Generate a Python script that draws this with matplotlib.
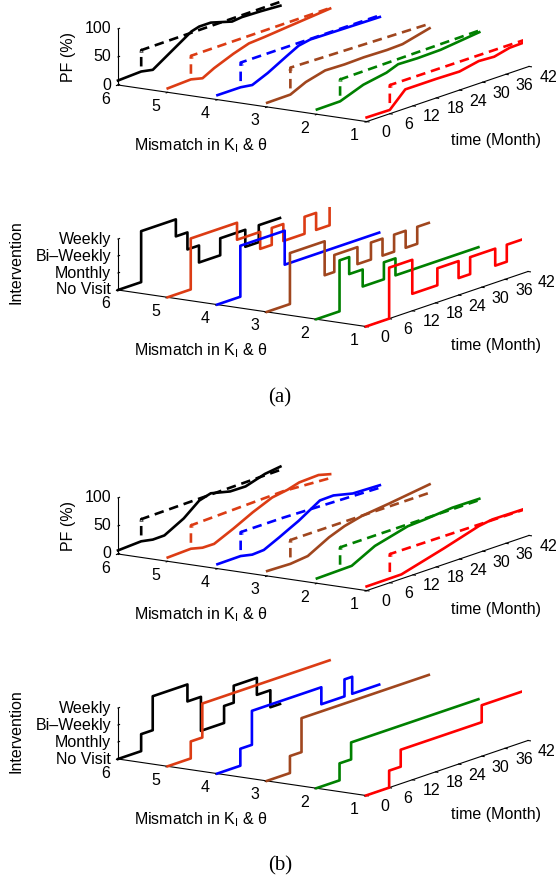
import numpy as np
import matplotlib.pyplot as plt

plt.rcParams['font.family'] = ['Liberation Sans', 'DejaVu Sans']
plt.rcParams['mathtext.fontset'] = 'custom'
plt.rcParams['mathtext.rm'] = 'Liberation Sans'
plt.rcParams['mathtext.it'] = 'Liberation Sans:italic'

# ── DATA ──────────────────────────────────────────────────────────────────────
MISMATCH = [6, 5, 4, 3, 2, 1]
COLORS = ['#000000', '#DC3C14', '#0000FF', '#A0461E', '#008000', '#FF0000']
TIME_TICKS = [0, 6, 12, 18, 24, 30, 36, 42]
PF_TICKS = [0, 50, 100]
INT_LABELS = ['No Visit', 'Monthly', 'Bi\u2013Weekly', 'Weekly']

# (a) PF, solid
PF_A_T = [[0, 6, 9, 19, 21, 24, 29.5, 32, 37, 42],
          [0, 6, 9, 12, 17, 21, 25, 28, 31, 42],
          [0, 6, 9, 13, 18, 21, 24, 42],
          [0, 6, 10, 15, 20, 25, 31, 35, 42],
          [0, 6, 12, 18, 21, 26, 32, 42],
          [0, 6, 10, 12, 18, 24, 29, 33, 37, 42]]
PF_A_V = [[8, 10, 6, 51, 55, 55, 44, 46, 45, 43],
          [7, 9, 4, 15, 29, 38, 40, 42, 44, 51],
          [8, 8, 5, 17, 36, 47, 51, 49],
          [7.5, 8, 21, 30, 29, 30, 29, 30, 42],
          [8.5, 9, 24.5, 32, 40, 39, 40, 48],
          [7.4, 6.8, 34, 34, 34, 33, 40, 38.4, 45, 46]]
# (a) PF, dashed
PFD_A_T = [[6, 6, 42], [6, 6, 42], [6, 6, 42], [6, 6, 42], [6, 6, 42], [6, 6, 42]]
PFD_A_V = [[19, 48, 50], [19, 51, 52], [19, 52, 52],
           [19, 56, 50], [19, 48, 51], [19, 51, 50]]

# (b) PF, solid
PF_B_T = [[0, 6, 9, 12, 17, 21, 24, 29, 33, 38, 42],
          [0, 6, 9, 12, 17, 22, 27, 31, 34, 39, 42],
          [0, 6, 9, 12, 16, 18.5, 21, 26.5, 30, 35, 42],
          [0, 6, 10.5, 16, 20, 24.5, 31.5, 42],
          [0, 9, 15, 23.5, 28, 35, 42],
          [0, 9, 20, 29, 32.5, 42]]
PF_B_V = [[6.4, 8.6, 4.6, 5, 23.6, 46, 52, 43.6, 43.2, 53.8, 57.5],
          [6.8, 8.4, 3.2, 3, 18.6, 35.9, 50.5, 55, 61, 62.5, 57],
          [7.9, 8.4, 3.9, 5.2, 18.4, 27.3, 36, 59.5, 60.2, 52, 50.4],
          [8.8, 7.5, 10.9, 31.4, 42, 49.6, 55.2, 65],
          [8.6, 10, 31.4, 46.6, 48.4, 52.7, 52.3],
          [7.4, 7.8, 28.5, 47, 50.7, 50]]
# (b) PF, dashed
PFD_B_T = [[6, 6, 42], [6, 6, 30, 42], [6, 6, 17, 42], [6, 6, 42], [6, 6, 42], [6, 6, 42]]
PFD_B_V = [[19, 48, 51.6], [19, 50, 55, 50], [19, 51, 51, 46],
           [19, 50, 50], [19, 50, 50], [19, 51, 49]]

# interventions: month at which each level starts (0 = No Visit ... 3 = Weekly)
INT_A_T = [[0, 6, 15, 18, 21, 26.5, 33, 36.5],
           [0, 6, 18, 24, 27, 30, 35.5, 38.5, 42],
           [0, 6, 17.5],
           [0, 6, 15, 17.5, 23.5, 27, 30, 33, 36, 39],
           [0, 6, 8.5, 12, 17.5, 20.5],
           [0, 6, 12, 18.5, 24, 27, 33.5, 36.5, 41]]
INT_A_L = [[0, 3, 2, 1, 0, 1, 0, 1],
           [0, 3, 2, 1, 2, 1, 2, 1, 2],
           [0, 3, 1],
           [0, 3, 1, 2, 1, 2, 1, 2, 1, 2],
           [0, 3, 2, 1, 2, 1],
           [0, 3, 1, 2, 1, 2, 1, 2, 1]]

INT_B_T = [[0, 6, 9, 18, 21.5, 27.5, 30, 36, 39.5],
           [0, 6, 9],
           [0, 6, 9, 27, 33, 35],
           [0, 6, 9],
           [0, 6, 9],
           [0, 6, 9, 30]]
INT_B_L = [[0, 1, 3, 2, 0, 1, 2, 1, 0],
           [0, 1, 3],
           [0, 1, 3, 2, 3, 2],
           [0, 1, 3],
           [0, 1, 2],
           [0, 1, 2, 3]]

T_END = 42

# ── LAYOUT ────────────────────────────────────────────────────────────────────
W, H = 559, 888
fig = plt.figure(figsize=(W / 100, H / 100), dpi=100)
FS = 11.5
MIS_LABEL = r'Mismatch in K$_\mathregular{I}$ & θ'


def stairs(t_start, levels):
    xs, ys = [], []
    for i, (t0, lv) in enumerate(zip(t_start, levels)):
        t1 = t_start[i + 1] if i + 1 < len(t_start) else T_END
        xs += [t0, t1]
        ys += [lv, lv]
    return xs, ys


def pix(ax, p):
    v = ax.get_proj() @ np.array([p[0], p[1], p[2], 1.0])
    X, Y = ax.transData.transform((v[0] / v[3], v[1] / v[3]))
    return np.array([X, H - Y])


def put(x, y, s, **kw):
    fig.text(x / W, 1 - y / H, s, fontsize=FS, **kw)


def fit(ax, p0, p1, q0, q1):
    # place the 3D box so that two of its corners land on the given pixels
    for _ in range(3):
        fig.canvas.draw()
        a, b = pix(ax, p0), pix(ax, p1)
        f = np.hypot(*np.subtract(q1, q0)) / np.hypot(*(b - a))
        pos = ax.get_position(original=True)
        c = np.array([(pos.x0 + pos.width / 2) * W, H - (pos.y0 + pos.height / 2) * H])
        a2 = c + f * (a - c)
        c2 = c + (np.array(q0) - a2)
        w2, h2 = pos.width * f, pos.height * f
        ax.set_position([c2[0] / W - w2 / 2, (H - c2[1]) / H - h2 / 2, w2, h2])
    fig.canvas.draw()


def make_axes(zbox):
    ax = fig.add_axes([0.05, 0.3, 0.9, 0.9 * W / H], projection='3d')
    ax.set_proj_type('ortho')
    ax.view_init(elev=12.92, azim=-146.64)
    ax.set_box_aspect((294.6, 296.9, zbox))
    ax.set_facecolor('none')
    ax.grid(False)
    for axis in (ax.xaxis, ax.yaxis, ax.zaxis):
        axis.set_pane_color((1, 1, 1, 0))
        axis.pane.set_edgecolor((1, 1, 1, 0))
        axis.line.set_linewidth(0.8)
        axis._axinfo['tick']['linewidth'] = {True: 0.8, False: 0.5}
    for axis in (ax.xaxis, ax.yaxis):
        axis._axinfo['tick']['inward_factor'] = 0.12
        axis._axinfo['tick']['outward_factor'] = 0.0
    ax.zaxis._axinfo['tick']['inward_factor'] = 0.0
    ax.zaxis._axinfo['tick']['outward_factor'] = 0.12
    return ax


def finish(ax, zmax, zticks):
    ax.set_xlim(0, 42); ax.set_ylim(1, 6); ax.set_zlim(0, zmax)
    ax.set_xticks(TIME_TICKS, [''] * len(TIME_TICKS))
    ax.set_yticks(MISMATCH, [''] * len(MISMATCH))
    ax.set_zticks(zticks, [''] * len(zticks))


def label(ax, zticks, zlabels, zname, zname_dx):
    for t in TIME_TICKS:
        x, y = pix(ax, (t, 1, 0))
        put(x + 19, y + 11, str(t), ha='center', va='center')
    for m in MISMATCH:
        x, y = pix(ax, (0, m, 0))
        put(x - 12, y + 14, str(m), ha='center', va='center')
    for z, s in zip(zticks, zlabels):
        x, y = pix(ax, (0, 6, z))
        put(x - 7, y, s, ha='right', va='center')
    ox, oy = pix(ax, (0, 6, 0))
    put(ox + 82.5, oy + 61, MIS_LABEL, ha='center', va='center')
    put(ox + 378, oy + 55.5, 'time (Month)', ha='center', va='center')
    put(ox + zname_dx, oy - 28, zname, ha='center', va='center', rotation=90)


def pf_panel(t_solid, v_solid, t_dash, v_dash, q0, q1):
    ax = make_axes(57.45)
    for i, m in enumerate(MISMATCH):
        ax.plot(t_solid[i], [m] * len(t_solid[i]), v_solid[i], color=COLORS[i], lw=1.9)
        ax.plot(t_dash[i], [m] * len(t_dash[i]), v_dash[i], color=COLORS[i], lw=1.9,
                dashes=(3.6, 2.2))
        # small marker where the projected curve leaves the vertical jump
        ax.plot(t_dash[i][1:2], [m], v_dash[i][1:2], ls='none', marker='^', ms=2.5,
                mfc='none', mec=COLORS[i], mew=0.5)
    finish(ax, 100, PF_TICKS)
    fit(ax, (0, 6, 0), (42, 1, 0), q0, q1)
    label(ax, PF_TICKS, [str(v) for v in PF_TICKS], 'PF (%)', -49.5)


def int_panel(t_start, levels, q0, q1):
    ax = make_axes(52.3)
    for i, m in enumerate(MISMATCH):
        xs, ys = stairs(t_start[i], levels[i])
        ax.plot(xs, [m] * len(xs), ys, color=COLORS[i], lw=1.9)
    finish(ax, 3, [0, 1, 2, 3])
    fit(ax, (0, 6, 0), (42, 1, 0), q0, q1)
    label(ax, [0, 1, 2, 3], INT_LABELS, 'Intervention', -101.5)


pf_panel(PF_A_T, PF_A_V, PFD_A_T, PFD_A_V, (118, 85), (529, 66))
int_panel(INT_A_T, INT_A_L, (118, 290), (528, 271.5))
pf_panel(PF_B_T, PF_B_V, PFD_B_T, PFD_B_V, (118, 554), (529, 535))
int_panel(INT_B_T, INT_B_L, (118, 759), (528, 740.5))

fig.text(280 / W, 1 - 398 / H, '(a)', ha='center', va='center',
         family='Liberation Serif', fontsize=15)
fig.text(280 / W, 1 - 866 / H, '(b)', ha='center', va='center',
         family='Liberation Serif', fontsize=15)

fig.savefig('out.png', dpi=100)
